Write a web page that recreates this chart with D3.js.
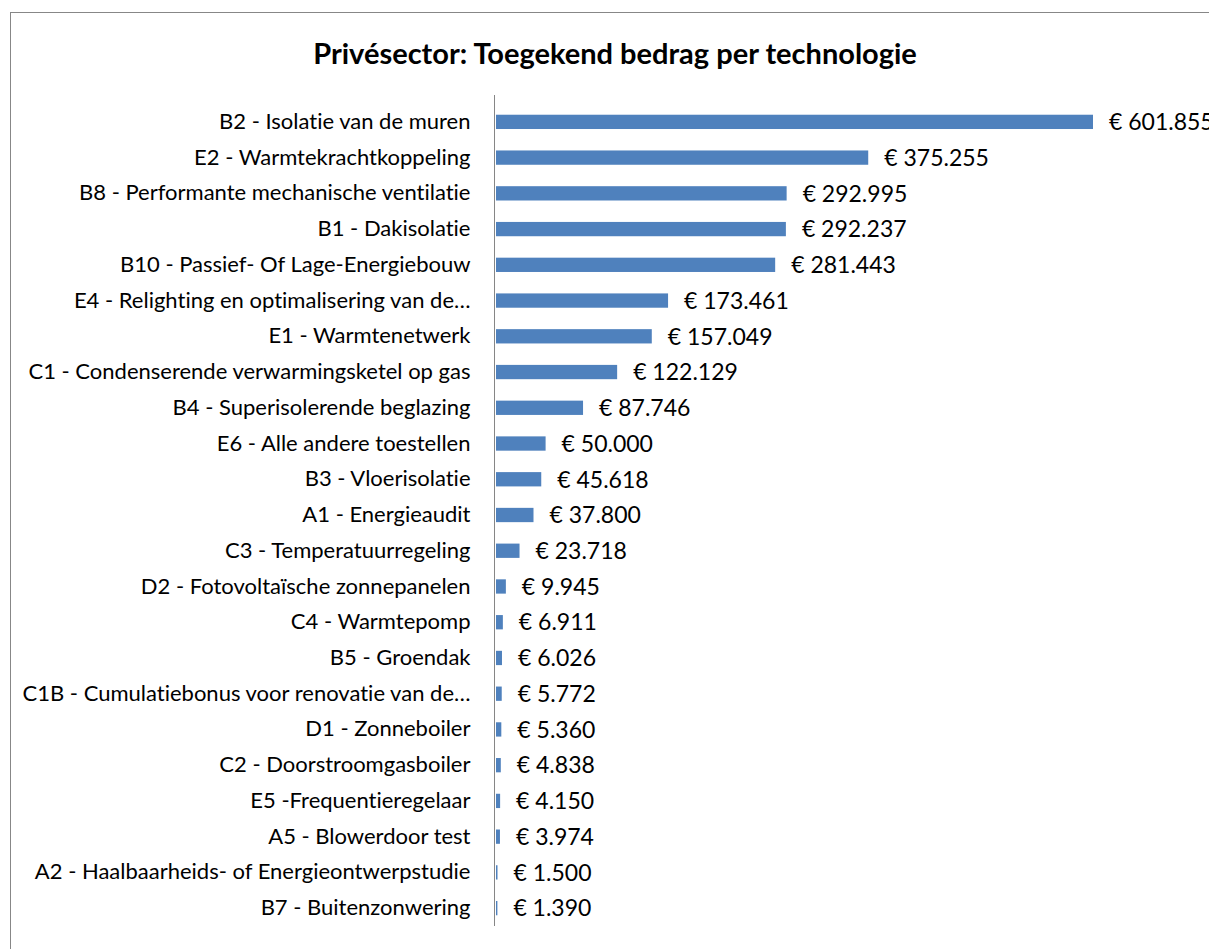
<!DOCTYPE html>
<html>
<head>
<meta charset="utf-8">
<script src="https://cdn.jsdelivr.net/npm/d3@7"></script>
<style>
  html, body { margin: 0; padding: 0; background: #fff; }
  svg { display: block; }
  text { font-variant-ligatures: none; }
</style>
</head>
<body>
<svg id="chart"></svg>
<script>
const categories = [
  'B2 - Isolatie van de muren',
  'E2 - Warmtekrachtkoppeling',
  'B8 - Performante mechanische ventilatie',
  'B1 - Dakisolatie',
  'B10 - Passief- Of Lage-Energiebouw',
  'E4 - Relighting en optimalisering van de…',
  'E1 - Warmtenetwerk',
  'C1 - Condenserende verwarmingsketel op gas',
  'B4 - Superisolerende beglazing',
  'E6 - Alle andere toestellen',
  'B3 - Vloerisolatie',
  'A1 - Energieaudit',
  'C3 - Temperatuurregeling',
  'D2 - Fotovoltaïsche zonnepanelen',
  'C4 - Warmtepomp',
  'B5 - Groendak',
  'C1B - Cumulatiebonus voor renovatie van de…',
  'D1 - Zonneboiler',
  'C2 - Doorstroomgasboiler',
  'E5 -Frequentieregelaar',
  'A5 - Blowerdoor test',
  'A2 - Haalbaarheids- of Energieontwerpstudie',
  'B7 - Buitenzonwering'
]
const amounts = [601855, 375255, 292995, 292237, 281443, 173461, 157049, 122129, 87746,
  50000, 45618, 37800, 23718, 9945, 6911, 6026, 5772, 5360, 4838, 4150, 3974, 1500, 1390]
const title = 'Privésector: Toegekend bedrag per technologie'

const width = 1209
const height = 949
const font = 'Lato, "Open Sans", sans-serif'

const svg = d3.select('#chart')
  .attr('width', width)
  .attr('height', height)

// chart area frame (right and bottom edges fall outside the picture)
svg.append('rect')
  .attr('x', 10.5)
  .attr('y', 12.5)
  .attr('width', 1240)
  .attr('height', 960)
  .attr('fill', '#fff')
  .attr('stroke', '#878787')
  .attr('stroke-width', 1)

svg.append('text')
  .attr('x', 615)
  .attr('y', 64)
  .attr('text-anchor', 'middle')
  .attr('font-family', font)
  .attr('font-weight', 'bold')
  .attr('font-size', '29px')
  .attr('fill', '#000')
  .text(title)

const x = d3.scaleLinear()
  .domain([0, 601855])
  .range([496, 1093])

const y = d3.scaleBand()
  .domain(categories)
  .range([104, 926])
  .paddingInner(0.6)
  .paddingOuter(0.3)

const nl = d3.formatLocale({ decimal: ',', thousands: '.', grouping: [3], currency: ['€ ', ''] })
const fmt = nl.format(',d')

svg.append('g')
  .selectAll('rect')
  .data(amounts)
  .join('rect')
  .attr('x', x(0))
  .attr('y', (d, i) => y(categories[i]))
  .attr('width', d => x(d) - x(0))
  .attr('height', y.bandwidth())
  .attr('fill', '#4f81bd')

// category axis
const axis = svg.append('g')
  .attr('transform', `translate(${x(0) - 1.5},0)`)
  .call(d3.axisLeft(y).tickSize(0).tickPadding(24))

axis.select('.domain')
  .attr('stroke', '#868686')
  .attr('d', 'M0,95V926')
axis.selectAll('text')
  .attr('font-family', font)
  .attr('font-size', '22px')
  .attr('fill', '#000')

svg.append('g')
  .selectAll('text')
  .data(amounts)
  .join('text')
  .attr('x', d => x(d) + 16)
  .attr('y', (d, i) => y(categories[i]) + y.bandwidth() / 2)
  .attr('dy', '0.36em')
  .attr('font-family', font)
  .attr('font-size', '23px')
  .attr('fill', '#000')
  .text(d => '€ ' + fmt(d))
</script>
</body>
</html>
